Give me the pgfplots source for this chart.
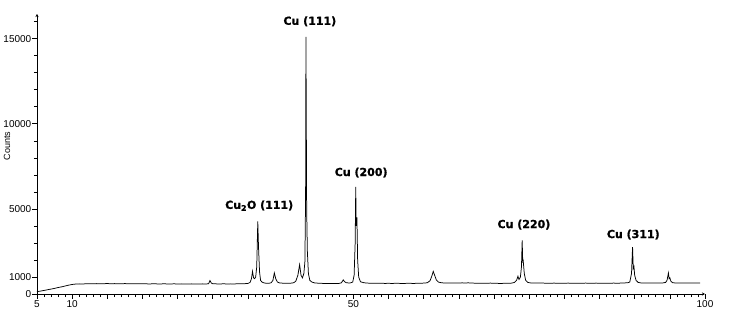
\documentclass[border=0pt]{standalone}
\usepackage{pgfplots}
\pgfplotsset{compat=1.18}
\usepackage{pgfplotstable}
\usepackage{fontspec}
\setmainfont{Liberation Sans}
\newfontfamily\lblfont{DejaVu Sans}[FakeBold=1.2]
\usetikzlibrary{arrows.meta}
\pgfplotstableread{
x y
5 140
5.5 170
6 210
6.5 250
7 290
7.5 330
8 380
8.5 420
9 470
9.5 520
10 560
10.5 585
11 595
11.5 590
12 600
12.5 605
13 595
13.5 610
14 600
14.5 605
15 615
15.5 600
16 610
16.5 605
17 600
17.5 612
18 598
18.5 605
19 600
19.5 595
20 605
20.5 598
21 590
21.5 600
22 595
22.5 588
23 600
23.5 592
24 590
24.5 598
25 588
25.5 595
26 590
26.5 585
27 595
27.5 590
28 585
28.5 595
29 590
29.4 600
29.6 790
29.8 640
30 600
30.5 595
31 590
31.5 598
32 592
32.5 595
33 590
33.5 600
34 595
34.5 605
35 620
35.3 680
35.5 900
35.65 1330
35.8 950
35.95 900
36.1 1000
36.25 1600
36.4 4270
36.5 2800
36.65 1300
36.8 800
37 700
37.3 650
37.6 630
38 630
38.3 660
38.55 800
38.75 1235
38.95 900
39.2 700
39.5 650
40 635
40.5 625
41 630
41.5 660
41.8 750
42.1 1100
42.35 1720
42.55 1100
42.75 950
42.95 1200
43.1 1900
43.2 5800
43.25 15100
43.35 5000
43.45 2500
43.6 1200
43.8 800
44.1 700
44.5 650
45 635
45.5 625
46 620
46.5 615
47 618
47.5 612
48 625
48.3 660
48.55 830
48.75 720
49 660
49.5 645
49.9 700
50.1 1100
50.25 3000
50.33 6290
50.4 4000
50.5 4500
50.6 2000
50.75 1000
51 720
51.5 660
52 640
52.5 635
53 630
53.5 625
54 630
54.5 622
55 628
55.5 620
56 630
56.5 625
57 618
57.5 625
58 630
58.5 620
59 628
59.5 635
60 640
60.5 660
60.9 780
61.15 1050
61.35 1330
61.55 1100
61.8 820
62.1 700
62.5 660
63 645
63.5 640
64 650
64.5 642
65 648
65.5 655
66 640
66.3 660
66.6 645
67 640
67.5 635
68 630
68.5 625
69 635
69.5 640
70 630
70.5 625
71 620
71.5 630
72 625
72.5 640
72.9 680
73.2 800
73.4 1040
73.55 850
73.75 1000
73.9 1600
74.0 3150
74.08 1900
74.15 1950
74.3 1200
74.5 800
74.8 680
75.2 650
75.6 640
76 645
76.5 650
77 640
77.5 635
78 630
78.5 640
79 635
80 630
80.5 640
81 635
81.5 630
82 638
82.5 632
83 640
83.5 635
84 630
84.5 640
85 632
85.5 638
86 630
86.5 635
87 640
87.5 635
88 640
88.5 650
89 660
89.3 700
89.55 1200
89.7 2760
89.8 1500
89.9 1600
90 1100
90.2 800
90.5 680
90.9 650
91.5 645
92 640
92.5 648
93 640
93.5 645
94 650
94.4 680
94.6 800
94.8 1235
94.9 900
95 950
95.15 750
95.4 660
95.8 650
96.5 645
97 650
97.5 640
98 648
98.5 642
99 645
99.3 640
}\xrd
\begin{document}
\begin{tikzpicture}
\path[use as bounding box] (0,0) rectangle (729bp,318bp);
\begin{axis}[
  at={(37bp,24bp)}, anchor=south west,
  width=668bp, height=280bp, scale only axis,
  xmin=5, xmax=100, ymin=0, ymax=16450,
  axis lines=left,
  axis line style={line width=0.8pt, -{Stealth[length=3pt,width=3pt]}},
  clip=false,
  tick align=outside,
  tick style={black, line width=0.6pt},
  major tick length=4.5bp, minor tick length=3bp,
  xtick={5,10,...,100},
  xticklabels={5,10,,,,,,,,50,,,,,,,,,,100},
  minor x tick num=4,
  ytick={0,1000,5000,10000,15000},
  minor ytick={2000,3000,4000,6000,7000,8000,9000,11000,12000,13000,14000,16000},
  scaled y ticks=false,
  /pgf/number format/assume math mode=true,
  /pgf/number format/set thousands separator={},
  tick label style={font=\fontsize{10bp}{12bp}\selectfont},
  yticklabel style={inner sep=1bp},
  xticklabel style={inner sep=2bp},
]
\addplot[black, line width=0.75pt, mark=none] table[x=x,y=y]{\xrd};
\begin{scope}[every node/.style={font=\lblfont\bfseries\fontsize{11bp}{13bp}\selectfont}]
\node at (axis cs:43.8,16020) {Cu (111)};
\node at (axis cs:36.6,5190) {Cu\textsubscript{2}O (111)};
\node at (axis cs:51.1,7135) {Cu (200)};
\node at (axis cs:74.25,4076) {Cu (220)};
\node at (axis cs:89.8,3490) {Cu (311)};
\end{scope}
\end{axis}
\node[rotate=90, font=\fontsize{9bp}{11bp}\selectfont] at (7bp,172bp) {Counts};
\end{tikzpicture}
\end{document}
